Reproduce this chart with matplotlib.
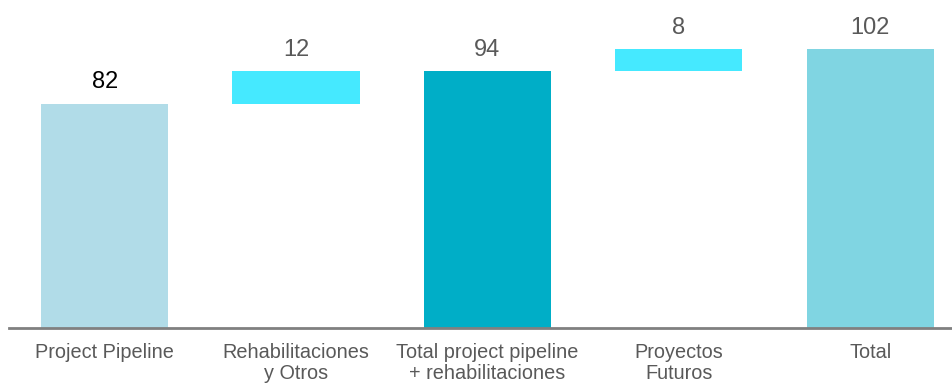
import numpy as np
import matplotlib.pyplot as plt

plt.rcParams['font.family'] = ['Liberation Sans', 'DejaVu Sans']

categories = ['Project Pipeline', 'Rehabilitaciones\ny Otros',
              'Total project pipeline\n+ rehabilitaciones', 'Proyectos\nFuturos', 'Total']
values = [82, 12, 94, 8, 102]
bottoms = [0, 82, 0, 94, 0]
colors = ['#B1DCE8', '#45E9FF', '#00AEC7', '#45E9FF', '#80D5E2']
label_colors = ['#000000', '#595959', '#595959', '#595959', '#595959']

fig = plt.figure(figsize=(9.53, 3.85), dpi=100)
ax = fig.add_axes([9 / 953, 57 / 385, 944 / 953, 328 / 385])

x = np.arange(len(categories))
ax.bar(x, values, bottom=bottoms, width=0.665, color=colors, linewidth=0)

for xi, v, b, c in zip(x, values, bottoms, label_colors):
    ax.text(xi, b + v + 3.8, str(v), ha='center', va='bottom', fontsize=17, color=c)

ax.set_xlim(-0.5, 4.433)
ax.set_ylim(0, 120)
ax.set_xticks(x)
ax.set_xticklabels(categories, fontsize=14.3, color='#595959', linespacing=1.1)
ax.tick_params(axis='x', length=0, pad=11)
ax.set_yticks([])
for s in ['top', 'right', 'left']:
    ax.spines[s].set_visible(False)
ax.spines['bottom'].set_color('#808080')
ax.spines['bottom'].set_linewidth(2)

fig.savefig('out.png', dpi=100)
